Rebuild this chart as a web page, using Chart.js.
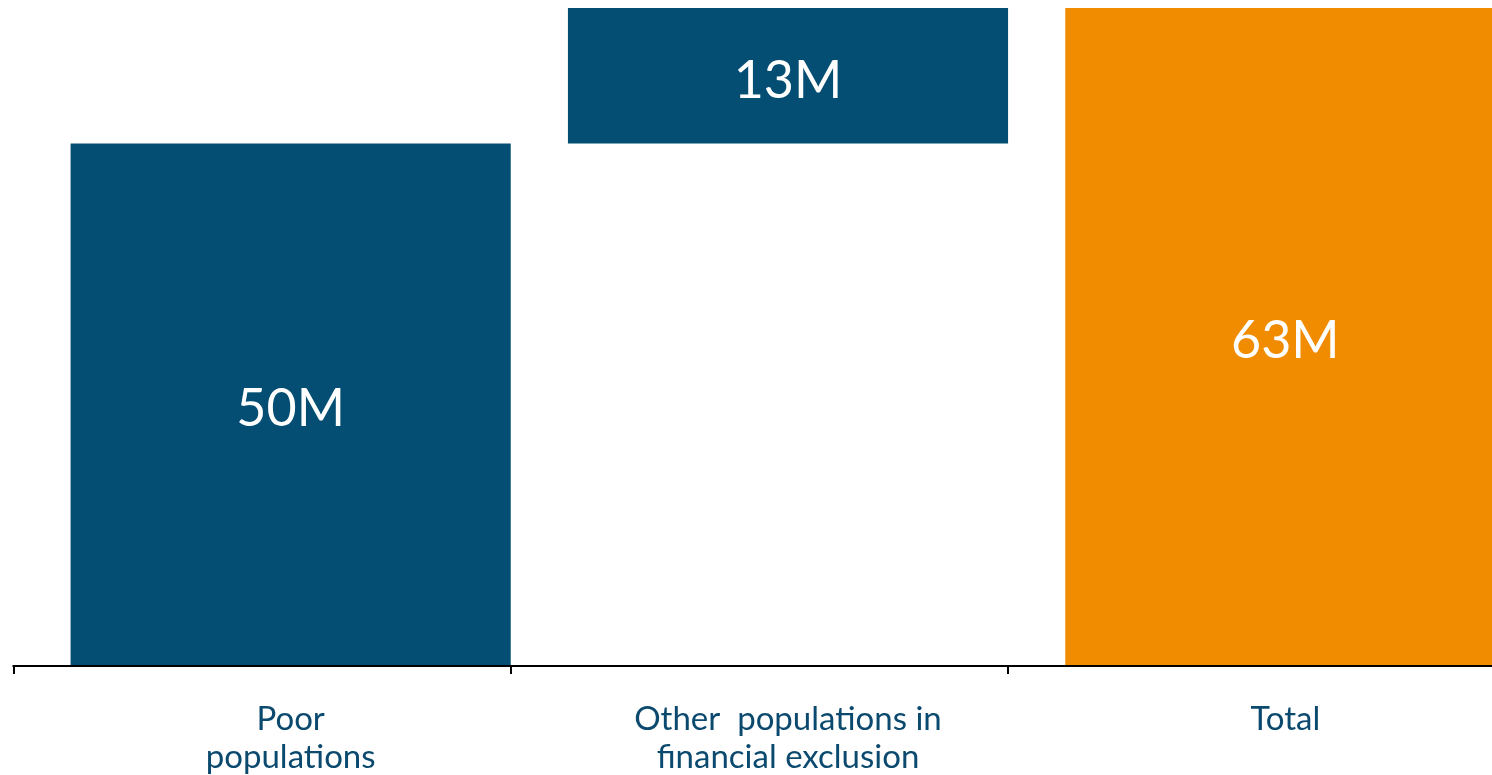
<!DOCTYPE html>
<html>
<head>
<meta charset="utf-8">
<script src="https://cdn.jsdelivr.net/npm/chart.js@4.4.1/dist/chart.umd.min.js"></script>
<style>
  html, body { margin: 0; padding: 0; background: #fff; overflow: hidden; }
  #wrap { position: relative; width: 1540px; height: 775px; }
</style>
</head>
<body>
<div id="wrap"><canvas id="chart"></canvas></div>
<script>
// Waterfall: poor + other excluded = total
const categories = [['Poor', 'populations'], ['Other  populations in', 'financial exclusion'], ['Total']];
const stepValues = [50, 13];          // millions
const totalValue = 63;                // millions
const valueLabels = ['50M', '13M', '63M'];

const BLUE = '#034e72';
const ORANGE = '#f18c00';
const TEXT = '#0b4a6e';
const FONT = 'Lato, "DejaVu Sans", sans-serif';

// Floating ranges built from the step values
const ranges = [
  [0, stepValues[0]],
  [stepValues[0], stepValues[0] + stepValues[1]],
  [0, totalValue],
];

/**
 * Draws the value label in the middle of each bar
 */
const barLabels = {
  id: 'barLabels',
  afterDatasetsDraw(chart) {
    const ctx = chart.ctx;
    const meta = chart.getDatasetMeta(0);
    ctx.save();
    ctx.fillStyle = '#ffffff';
    ctx.font = '52px ' + FONT;
    ctx.textAlign = 'center';
    ctx.textBaseline = 'middle';
    meta.data.forEach((bar, i) => {
      const { x, y, base } = bar.getProps(['x', 'y', 'base'], true);
      ctx.fillText(valueLabels[i], x, (y + base) / 2 + 5);
    });
    ctx.restore();
  },
};

/**
 * Category axis line with tick marks, drawn slightly left of the
 * category boundaries (bars sit flush against the next tick)
 */
const TICK_SHIFT = 28.5;
const axisTicks = {
  id: 'axisTicks',
  afterDraw(chart) {
    const ctx = chart.ctx;
    const xs = chart.scales.x;
    const yBase = chart.chartArea.bottom + 1;
    const step = xs.width / xs.ticks.length;
    const first = xs.left - TICK_SHIFT;
    ctx.save();
    ctx.strokeStyle = '#000';
    ctx.lineWidth = 2;
    ctx.beginPath();
    ctx.moveTo(first - 1, yBase);
    ctx.lineTo(chart.width, yBase);
    for (let i = 0; i <= xs.ticks.length; i++) {
      const px = Math.round(first + i * step);
      ctx.moveTo(px, yBase);
      ctx.lineTo(px, yBase + 8);
    }
    ctx.stroke();
    ctx.restore();
  },
};

const ctx = document.getElementById('chart').getContext('2d');
new Chart(ctx, {
  type: 'bar',
  data: {
    labels: categories,
    datasets: [{
      data: ranges,
      backgroundColor: [BLUE, BLUE, ORANGE],
      borderWidth: 0,
      categoryPercentage: 1,
      barPercentage: 0.885,
    }],
  },
  options: {
    responsive: true,
    maintainAspectRatio: false,
    animation: false,
    layout: { padding: { top: 8, left: 42, right: 6, bottom: 0 } },
    plugins: {
      legend: { display: false },
      tooltip: { enabled: false },
    },
    scales: {
      x: {
        offset: true,
        afterFit(scale) { scale.height = 110; },
        grid: {
          offset: true,
          drawOnChartArea: false,
          drawTicks: true,
          tickLength: 10,
          tickColor: 'rgba(0,0,0,0)',
        },
        border: { display: false },
        ticks: {
          color: TEXT,
          font: { family: FONT, size: 33, lineHeight: 1.15 },
          padding: 25,
          maxRotation: 0,
          autoSkip: false,
        },
      },
      y: {
        display: false,
        min: 0,
        max: totalValue,
      },
    },
  },
  plugins: [barLabels, axisTicks],
});
</script>
</body>
</html>
